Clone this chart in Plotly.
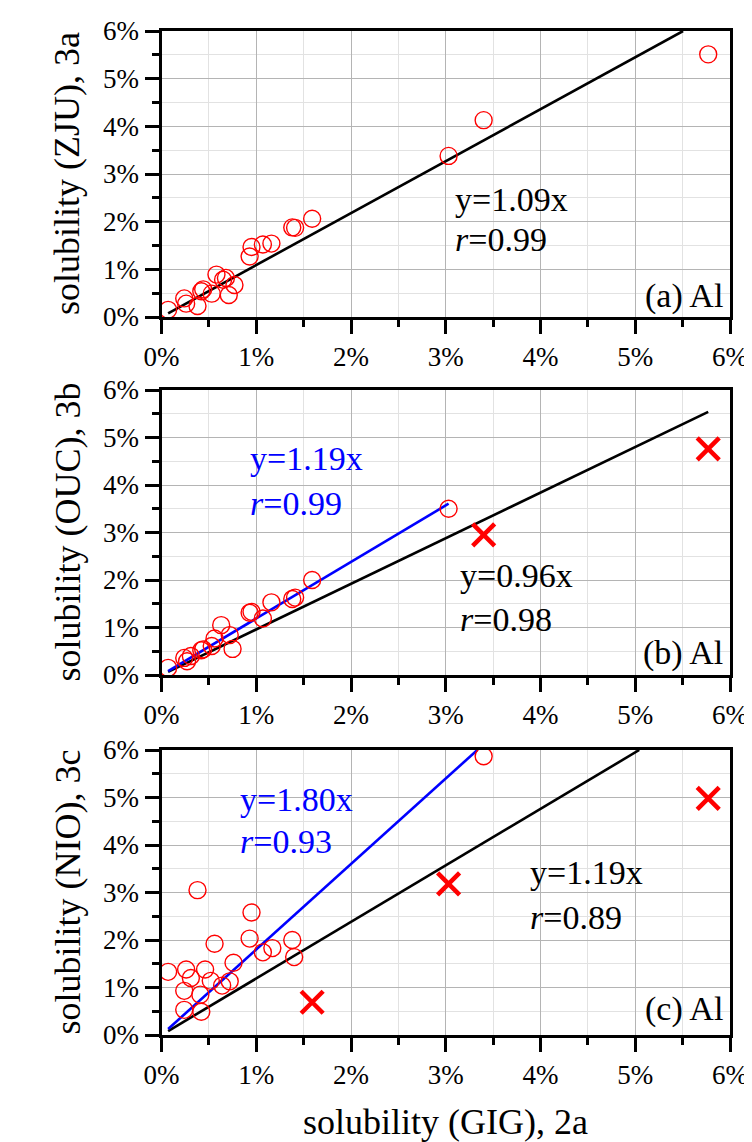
import plotly.graph_objects as go

# ---------------- data (percent) ----------------
# Panel (a): ZJU 3a vs GIG 2a
x_a = [0.07, 0.24, 0.26, 0.38, 0.42, 0.44, 0.53, 0.58, 0.65, 0.68, 0.71, 0.77,
       0.93, 0.95, 1.07, 1.16, 1.38, 1.41, 1.59, 3.03, 3.40, 5.77]
y_a = [0.15, 0.39, 0.28, 0.23, 0.54, 0.58, 0.49, 0.89, 0.78, 0.82, 0.46, 0.67,
       1.27, 1.47, 1.52, 1.54, 1.88, 1.87, 2.06, 3.38, 4.13, 5.51]
slope_a, r_a = 1.09, 0.99

# Panel (b): OUC 3b vs GIG 2a
x_b = [0.07, 0.24, 0.27, 0.31, 0.42, 0.44, 0.53, 0.56, 0.63, 0.72, 0.75,
       0.93, 0.95, 1.07, 1.16, 1.38, 1.41, 1.59, 3.03]
y_b = [0.15, 0.36, 0.29, 0.40, 0.52, 0.54, 0.61, 0.77, 1.05, 0.84, 0.55,
       1.31, 1.33, 1.19, 1.53, 1.60, 1.63, 2.00, 3.50]
x_b_out = [3.40, 5.77]
y_b_out = [2.95, 4.76]
slope_b_all, r_b_all = 0.96, 0.98
slope_b_fit, r_b_fit = 1.19, 0.99

# Panel (c): NIO 3c vs GIG 2a
x_c = [0.07, 0.24, 0.24, 0.26, 0.31, 0.38, 0.41, 0.42, 0.46, 0.52, 0.56, 0.64,
       0.72, 0.76, 0.93, 0.95, 1.07, 1.17, 1.38, 1.40, 3.40]
y_c = [1.33, 0.93, 0.53, 1.38, 1.20, 3.05, 0.85, 0.49, 1.38, 1.14, 1.92, 1.04,
       1.13, 1.52, 2.03, 2.58, 1.74, 1.83, 2.00, 1.64, 5.87]
x_c_out = [1.59, 3.03, 5.77]
y_c_out = [0.69, 3.18, 4.98]
slope_c_all, r_c_all = 1.19, 0.89
slope_c_fit, r_c_fit = 1.80, 0.93

tick_vals = [0, 1, 2, 3, 4, 5, 6]
tick_text = ["0%", "1%", "2%", "3%", "4%", "5%", "6%"]
y_titles = ["solubility (ZJU), 3a", "solubility (OUC), 3b", "solubility (NIO), 3c"]
x_title = "solubility (GIG), 2a"
panel_labels = ["(a) Al", "(b) Al", "(c) Al"]
AX_MAX = 6.0

FONT = "Times New Roman, Liberation Serif, Tinos, serif"
RED = "#ff0000"
BLUE = "#0000ff"

fig = go.Figure()


def fit_line(xs, slope, x0):
    x_end = min(max(xs), AX_MAX / slope)
    return [x0, x_end], [slope * x0, slope * x_end]


def circles(xs, ys, ax):
    fig.add_trace(go.Scatter(x=xs, y=ys, mode="markers", xaxis="x" + ax, yaxis="y" + ax,
                             marker=dict(symbol="circle-open", size=17, color=RED,
                                         line=dict(width=1.4, color=RED)),
                             cliponaxis=False, showlegend=False))


def crosses(xs, ys, ax):
    fig.add_trace(go.Scatter(x=xs, y=ys, mode="markers", xaxis="x" + ax, yaxis="y" + ax,
                             marker=dict(symbol="x-thin-open", size=22, color=RED,
                                         line=dict(width=4.5, color=RED)),
                             cliponaxis=False, showlegend=False))


def line(xs, ys, ax, color):
    fig.add_trace(go.Scatter(x=xs, y=ys, mode="lines", xaxis="x" + ax, yaxis="y" + ax,
                             line=dict(color=color, width=2.6), showlegend=False))


x0 = min(x_a)
# (a)
lx, ly = fit_line(x_a, slope_a, x0)
line(lx, ly, "", "black")
circles(x_a, y_a, "")
# (b)
lx, ly = fit_line(x_b + x_b_out, slope_b_all, x0)
line(lx, ly, "2", "black")
lx, ly = fit_line(x_b, slope_b_fit, x0)
line(lx, ly, "2", BLUE)
circles(x_b, y_b, "2")
crosses(x_b_out, y_b_out, "2")
# (c)
lx, ly = fit_line(x_c + x_c_out, slope_c_all, x0)
line(lx, ly, "3", "black")
lx, ly = fit_line(x_c, slope_c_fit, x0)
line(lx, ly, "3", BLUE)
circles(x_c, y_c, "3")
crosses(x_c_out, y_c_out, "3")

W, H = 752, 1142
x_dom = [153.5 / W, 722 / W]
panels_px = [(23, 309), (382, 667), (742, 1027)]
y_doms = [[1 - b / H, 1 - t / H] for (t, b) in panels_px]

axis_common = dict(
    range=[0, AX_MAX], tickvals=tick_vals, ticktext=tick_text,
    showline=True, linecolor="black", linewidth=3, mirror=True,
    ticks="outside", ticklen=14, tickwidth=2.5, tickcolor="black",
    showgrid=True, gridcolor="#b4b4b4", gridwidth=1, zeroline=False,
    tickfont=dict(family=FONT, size=27, color="black"),
    minor=dict(dtick=0.5, tick0=0, showgrid=True, gridcolor="#e2e2e2", gridwidth=1,
               ticks="outside", ticklen=7, tickwidth=2.5, tickcolor="black"),
    fixedrange=True, automargin=False,
)

layout = dict(width=W, height=H, margin=dict(l=0, r=0, t=0, b=0, pad=0, autoexpand=False),
              paper_bgcolor="white", plot_bgcolor="white", showlegend=False,
              font=dict(family=FONT))
for i, suf in enumerate(["", "2", "3"]):
    layout["xaxis" + suf] = dict(axis_common, domain=x_dom, anchor="y" + suf)
    layout["yaxis" + suf] = dict(axis_common, domain=y_doms[i], anchor="x" + suf)
fig.update_layout(**layout)

ann = []
ANN_SIZE = 34


def text(ax, x, y, s, color="black", xanchor="left", size=ANN_SIZE):
    ann.append(dict(xref="x" + ax, yref="y" + ax, x=x, y=y, text=s, showarrow=False,
                    xanchor=xanchor, yanchor="middle",
                    font=dict(family=FONT, size=size, color=color)))


text("", 3.08, 2.47, "y=%.2fx" % slope_a)
text("", 3.08, 1.63, "<i>r</i>=%.2f" % r_a)
text("", 5.95, 0.45, panel_labels[0], xanchor="right")

text("2", 0.91, 4.55, "y=%.2fx" % slope_b_fit, BLUE)
text("2", 0.91, 3.62, "<i>r</i>=%.2f" % r_b_fit, BLUE)
text("2", 3.13, 2.10, "y=%.2fx" % slope_b_all)
text("2", 3.13, 1.17, "<i>r</i>=%.2f" % r_b_all)
text("2", 5.95, 0.47, panel_labels[1], xanchor="right")

text("3", 0.81, 4.96, "y=%.2fx" % slope_c_fit, BLUE)
text("3", 0.81, 4.07, "<i>r</i>=%.2f" % r_c_fit, BLUE)
text("3", 3.87, 3.43, "y=%.2fx" % slope_c_all)
text("3", 3.87, 2.48, "<i>r</i>=%.2f" % r_c_all)
text("3", 5.95, 0.54, panel_labels[2], xanchor="right")

for i, (t, b) in enumerate(panels_px):
    ann.append(dict(xref="paper", yref="paper", x=59 / W, y=1 - (t + b) / 2 / H,
                    text=y_titles[i], textangle=-90, showarrow=False,
                    xanchor="center", yanchor="middle",
                    font=dict(family=FONT, size=36, color="black")))

ann.append(dict(xref="paper", yref="paper", x=(x_dom[0] + x_dom[1]) / 2, y=1 - 1114 / H,
                text=x_title, showarrow=False, xanchor="center", yanchor="middle",
                font=dict(family=FONT, size=36, color="black")))

fig.update_layout(annotations=ann)
fig.write_html("out.html")
